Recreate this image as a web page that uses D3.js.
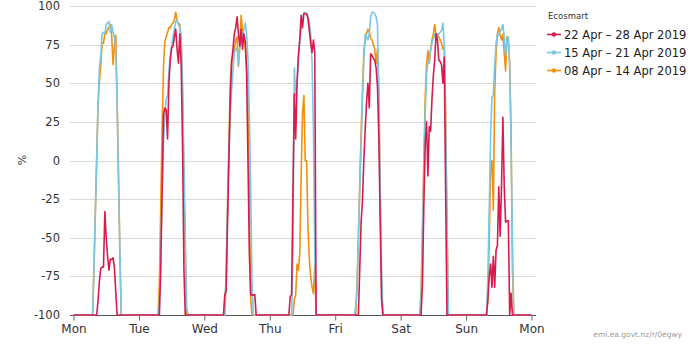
<!DOCTYPE html>
<html><head><meta charset="utf-8">
<script src="https://cdn.jsdelivr.net/npm/d3@7"></script>
<style>html,body{margin:0;padding:0;background:#fff;}svg{display:block;font-family:"DejaVu Sans",sans-serif;}</style>
</head><body><svg id="c" width="690" height="346"></svg>
<script>
const dayLabels = ["Mon","Tue","Wed","Thu","Fri","Sat","Sun","Mon"];
const yTicks = [-100,-75,-50,-25,0,25,50,75,100];
const seriesNames = ["22 Apr – 28 Apr 2019","15 Apr – 21 Apr 2019","08 Apr – 14 Apr 2019"];
const seriesColors = ["#d81b4c","#78c8e6","#f0900e"];
const slotsPerDay = 48;   // half-hour readings
const floorValue = -100;  // reading outside the listed daytime runs
// daytime runs per day: [first half-hour slot, readings...]
const red22Apr = [
  [17,[-100,-91,-78,-70,-69,-69,-33,-50,-62,-71,-64,-64,-63,-69,-85,-100]],
  [15,[-100,-70,-20,30,34,33,14,50,65,73,74,80,85,72,63,82,62,10,-70,-100]],
  [14,[-100,-87,-84,-40,0,40,64,72,82,86,93,82,74,85,72,82,77,56,0,-60,-87,-87,-87,-87,-100]],
  [14,[-100,-88,-87,-20,43,14,50,68,78,94,86,95,95,95,92,84,76,70,78,70,-100]],
  [17,[-100,-70,-40,-26,0,20,38,50,34,69,68,66,65,60,48,15,-40,-90,-100]],
  [15,[-100,-80,-30,10,25,-10,22,19,40,55,65,82,78,65,64,62,50,67,-20,-100]],
  [15,[-100,-90,-75,-67,-82,-62,-82,-58,-55,-17,-49,-17,28,-17,-40,-39,-39,-100,-86,-100]]
];
const blue15Apr = [
  [14,[-100,-70,-35,0,36,60,68,82,83,82,88,89,90,83,88,83,80,70,36,-10,-55,-100]],
  [14,[-100,-95,-60,-20,10,30,40,42,58,68,74,80,85,90,91,88,86,78,50,0,-50,-95,-100]],
  [15,[-100,-70,-30,5,30,45,58,70,72,73,62,74,76,80,85,89,82,66,30,-20,-80,-100]],
  [16,[-100,-60,60,42,50,66,78,84,92,96,96,95,94,90,82,64,20,-60,-100]],
  [14,[-100,-95,-84,-50,-20,10,40,65,82,80,78,82,93,96,96,95,93,88,40,-20,-70,-100]],
  [14,[-100,-90,-50,-10,30,55,65,63,72,76,79,82,78,80,82,83,84,89,75,20,-40,-100]],
  [15,[-100,-75,-30,15,41,42,62,76,82,81,84,85,88,80,68,78,80,60,10,-50,-100]]
];
const orange08Apr = [
  [14,[-100,-70,-35,0,36,51,62,76,76,82,82,85,86,88,81,62,74,81,40,-10,-60,-100]],
  [14,[-100,-80,-30,20,60,77,80,83,86,86,88,89,91,96,90,89,88,78,40,-10,-60,-100]],
  [15,[-100,-75,-30,10,50,64,68,72,78,80,61,74,94,84,78,74,62,50,-20,-90,-100]],
  [17,[-100,-90,-87,-67,-71,-60,-10,30,42,0,0,-43,-64,-75,-82,-86,-68,-100]],
  [15,[-100,-80,-50,-15,18,45,70,78,82,85,83,79,78,75,72,63,72,45,-20,-80,-100]],
  [14,[-100,-85,-45,0,40,62,71,63,72,78,82,88,81,82,80,78,76,72,74,30,-40,-100]],
  [15,[-100,-90,-50,-5,0,-32,45,70,82,86,81,78,82,70,58,80,78,62,20,-70,-100]]
];

function expand(runs){
  const out = [];
  const n = (dayLabels.length-1)*slotsPerDay;
  for(let i=0;i<=n;i++) out.push({i, v: floorValue});
  runs.forEach(([start, vals], d) => {
    vals.forEach((v, k) => { out[d*slotsPerDay + start + k].v = v; });
  });
  return out;
}
const series = [red22Apr, blue15Apr, orange08Apr].map(expand);

const svg = d3.select("#c");
const nSlots = (dayLabels.length-1)*slotsPerDay;
const x = d3.scaleLinear().domain([0, nSlots]).range([73.5, 531.5]);
const y = d3.scaleLinear().domain([-100, 100]).range([315, 6]);

// gridlines
svg.append("g").selectAll("line").data(yTicks).join("line")
  .attr("x1",70).attr("x2",536)
  .attr("y1",d=>Math.round(y(d))+0.5).attr("y2",d=>Math.round(y(d))+0.5)
  .attr("stroke","#d9d9d9").attr("stroke-width",1);

// y labels
svg.append("g").selectAll("text").data(yTicks).join("text")
  .attr("x",60).attr("y",d=>y(d)).attr("dy","0.35em")
  .attr("text-anchor","end").attr("font-size",11.5).attr("fill","#333")
  .text(d=>d);
svg.append("text").attr("transform","translate(22,160) rotate(-90)")
  .attr("text-anchor","middle").attr("dy","0.35em").attr("font-size",11).attr("fill","#333").text("%");

// x axis
const xAxis = d3.axisBottom(x)
  .tickValues(dayLabels.map((d,i)=>i*slotsPerDay))
  .tickFormat((d,i)=>dayLabels[i]).tickSize(5).tickPadding(4);
const gx = svg.append("g").attr("transform",`translate(0,${Math.round(y(-100))+0.5})`).call(xAxis);
gx.select(".domain").attr("stroke","#555").attr("d",`M70,0H536`);
gx.selectAll(".tick line").attr("stroke","#666");
gx.selectAll(".tick text").attr("font-size",12).attr("fill","#333").attr("font-family","DejaVu Sans");

// lines (draw oldest first so red is on top)
const line = d3.line().x(d=>x(d.i)).y(d=>y(d.v));
[2,1,0].forEach(k=>{
  svg.append("path").datum(series[k]).attr("d",line)
    .attr("fill","none").attr("stroke",seriesColors[k]).attr("stroke-width",1.6)
    .attr("stroke-linejoin","round");
});

// legend
svg.append("text").attr("x",548).attr("y",16).attr("dy","0.35em")
  .attr("font-size",8.5).attr("fill","#333").text("Ecosmart");
const lg = svg.append("g").selectAll("g").data(seriesNames).join("g")
  .attr("transform",(d,i)=>`translate(0,${34.5+i*18})`);
lg.append("line").attr("x1",547).attr("x2",561).attr("stroke",(d,i)=>seriesColors[i]).attr("stroke-width",1.6);
lg.append("circle").attr("cx",554).attr("r",2.2).attr("fill",(d,i)=>seriesColors[i]);
lg.append("text").attr("x",564).attr("dy","0.35em").attr("font-size",11.5).attr("fill","#222").text(d=>d);

// credit
svg.append("text").attr("x",682).attr("y",337).attr("text-anchor","end")
  .attr("font-size",7.5).attr("fill","#999").text("emi.ea.govt.nz/r/0egwy");
</script></body></html>
